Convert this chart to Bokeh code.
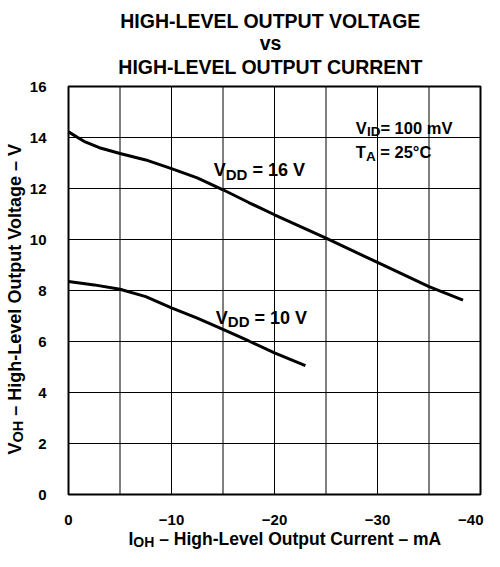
import math
from bokeh.plotting import figure
from bokeh.models import Range1d, Label
from bokeh.core.properties import value
from bokeh.embed import file_html
from bokeh.resources import INLINE

# ---- data ----
vdd16_current = [0, -1.5, -3, -5, -7.5, -10, -12.5, -15, -17.5, -20, -25, -30, -35, -38.3]
vdd16_voltage = [14.22, 13.85, 13.6, 13.37, 13.12, 12.78, 12.42, 11.95, 11.45, 10.97, 10.05, 9.1, 8.15, 7.62]
vdd10_current = [0, -2.5, -5, -7.5, -10, -12.5, -15, -17.5, -20, -23]
vdd10_voltage = [8.35, 8.22, 8.05, 7.76, 7.32, 6.92, 6.48, 6.02, 5.55, 5.05]
x_grid = [0, -5, -10, -15, -20, -25, -30, -35, -40]
x_label_ticks = [0, -10, -20, -30, -40]
x_label_text = ["0", "\u221210", "\u221220", "\u221230", "\u221240"]
y_ticks = [0, 2, 4, 6, 8, 10, 12, 14, 16]
y_label_text = ["0", "2", "4", "6", "8", "10", "12", "14", "16"]
title_lines = ["HIGH-LEVEL OUTPUT VOLTAGE", "vs", "HIGH-LEVEL OUTPUT CURRENT"]

FONT = "Liberation Sans"

# ---- layout (figure pixels); the frame fills the whole canvas ----
W, H = 484, 551
FL, FR, FT, FB = 68, 480, 86, 494
XMIN, XMAX = x_grid[0], x_grid[-1]
YMIN, YMAX = y_ticks[0], y_ticks[-1]

def DX(px):
    return XMIN + (px - FL) * (XMAX - XMIN) / (FR - FL)

def DY(py):
    return YMIN + (FB - py) * (YMAX - YMIN) / (FB - FT)

def PX(x):
    return FL + (x - XMIN) * (FR - FL) / (XMAX - XMIN)

def PY(y):
    return FB - (y - YMIN) * (FB - FT) / (YMAX - YMIN)

p = figure(width=W, height=H, output_backend="svg", toolbar_location=None,
           x_range=Range1d(DX(0), DX(W)), y_range=Range1d(DY(H), DY(0)),
           x_axis_location=None, y_axis_location=None, min_border=0)
p.background_fill_color = "white"
p.border_fill_color = "white"
p.outline_line_color = None
p.grid.visible = False

# grid and frame, drawn through the data scales
p.segment(x0=x_grid, y0=[YMIN] * len(x_grid), x1=x_grid, y1=[YMAX] * len(x_grid),
          line_color="black", line_width=1)
p.segment(x0=[XMIN] * len(y_ticks), y0=y_ticks, x1=[XMAX] * len(y_ticks), y1=y_ticks,
          line_color="black", line_width=1)
p.quad(left=[XMIN], right=[XMAX], bottom=[YMIN], top=[YMAX],
       fill_color=None, line_color="black", line_width=2)

# tick labels
tick_style = dict(text_font=value(FONT), text_font_style="bold",
                  text_font_size="15px", text_color="black")
p.text(x=x_label_ticks[:-1], y=[YMIN] * (len(x_label_ticks) - 1), text=x_label_text[:-1],
       text_align="center", text_baseline="alphabetic", y_offset=25, **tick_style)
p.text(x=x_label_ticks[-1:], y=[YMIN], text=x_label_text[-1:],
       text_align="right", text_baseline="alphabetic", x_offset=3, y_offset=25, **tick_style)
p.text(x=[XMIN] * len(y_ticks), y=y_ticks, text=y_label_text,
       text_align="right", text_baseline="middle", x_offset=-22, **tick_style)

# curves
p.line(vdd16_current, vdd16_voltage, line_width=3, line_color="black")
p.line(vdd10_current, vdd10_voltage, line_width=3, line_color="black")

# ---- text helpers ----
WID = {' ': 278, '-': 333, '\u2013': 556, '\u2212': 584, '=': 584, '\u00b0': 400,
       'A': 722, 'C': 722, 'D': 722, 'E': 667, 'G': 778, 'H': 722, 'I': 278, 'L': 611,
       'N': 722, 'O': 778, 'P': 667, 'R': 722, 'T': 611, 'U': 722, 'V': 667,
       'a': 556, 'e': 556, 'g': 611, 'h': 611, 'i': 278, 'l': 278, 'm': 889, 'n': 611,
       'o': 611, 'p': 611, 'r': 389, 's': 556, 't': 333, 'u': 611, 'v': 556}
for d in "0123456789":
    WID[d] = 556

def text_width(s, size):
    return sum(WID.get(c, 600) for c in s) * size / 1000.0

def label(px, py, text, size, align="left", angle=0.0):
    p.add_layout(Label(x=px, y=H - py, x_units="screen", y_units="screen",
                       text=text, angle=angle,
                       text_font=FONT, text_font_style="bold",
                       text_font_size=f"{size}px", text_color="black",
                       text_align=align, text_baseline="alphabetic"))

def rich(parts, px, py, vertical=False):
    adv = 0.0
    for txt, size, dy in parts:
        lead = len(txt) - len(txt.lstrip(" "))
        adv += text_width(" " * lead, size)
        body = txt.lstrip(" ")
        if vertical:
            label(px + dy, py - adv, body, size, angle=math.pi / 2)
        else:
            label(px + adv, py + dy, body, size)
        adv += text_width(body, size)

# title
for line, base in zip(title_lines, [20, 42, 66]):
    label(270, base, line, 19.5, align="center")

# axis titles
rich([("I", 17.5, 0), ("OH", 14, 3.5), (" \u2013 High-Level Output Current \u2013 mA", 17.5, 0)],
     128, 538)
ylab = [("V", 18, 0), ("OH", 14.5, 3.5), (" \u2013 High-Level Output Voltage \u2013 V", 18, 0)]
ylen = sum(text_width(t, s) for t, s, _ in ylab)
rich(ylab, 14, (FT + FB) / 2 + 8 + ylen / 2, vertical=True)

# in-plot annotations (positions from data units)
rich([("V", 18, 0), ("DD", 15, 4), (" = 16 V", 18, 0)], PX(-14.1), PY(12.72))
rich([("V", 18, 0), ("DD", 15, 4), (" = 10 V", 18, 0)], PX(-14.3), PY(6.93))
rich([("V", 16.5, 0), ("ID", 13.5, 4), ("= 100 mV", 16.5, 0)], PX(-27.9), PY(14.38))
rich([("T", 16.5, 0), ("A", 13.5, 4), (" = 25\u00b0C", 16.5, 0)], PX(-27.9), PY(13.43))

open("out.html", "w").write(file_html(p, INLINE))
